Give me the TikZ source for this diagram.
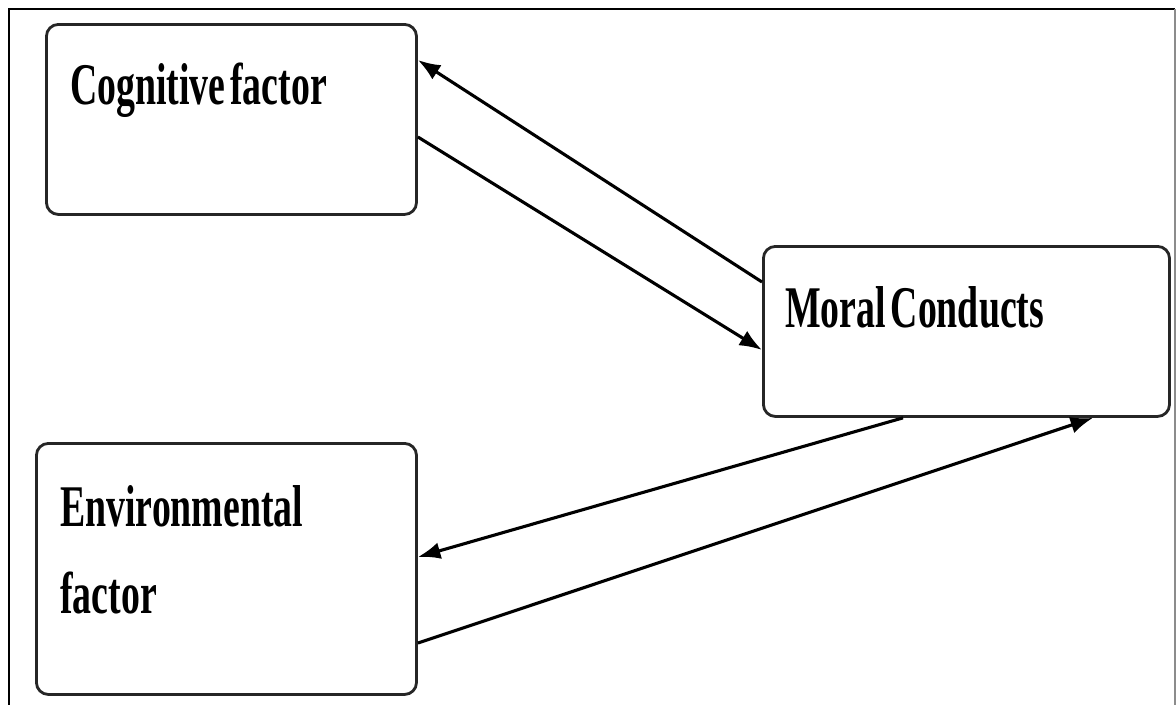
\documentclass[tikz,border=0pt]{standalone}
\usepackage{fontspec}
\newfontfamily\boxfont[FakeStretch=0.64,WordSpace=0.5]{Liberation Serif}
\usetikzlibrary{arrows.meta}

\begin{document}
\begin{tikzpicture}[x=0.025cm, y=-0.025cm,
        factorbox/.style={draw=black!85, line width=2pt, rounded corners=0.3cm,
            anchor=north west, inner sep=0pt},
        factortext/.style={anchor=north west, inner sep=0pt, align=left,
            font=\boxfont\bfseries\fontsize{42}{62}\selectfont},
        link/.style={line width=2.2pt, -{Latex[length=16pt,width=12pt]}}]
        \useasboundingbox (0, 0) rectangle (1176, 704);
        % frame
        \draw[line width=2pt] (9, 720) -- (9, 9) -- (1175, 9);
        \draw[line width=1.6pt, black!45] (1175, 9) -- (1175, 720);
        % boxes
        \node[factorbox, minimum width=9.25cm, minimum height=4.75cm] (cog) at (45, 23) {};
        \node[factorbox, minimum width=10.15cm, minimum height=4.25cm] (moral) at (762, 245) {};
        \node[factorbox, minimum width=9.5cm, minimum height=6.275cm] (env) at (35, 442) {};
        \node[factortext] (cogtext) at (70, 63) {Cognitive factor};
        \node[factortext] (moraltext) at (785, 286) {Moral Conducts};
        \node[factortext] (envtext) at (60, 485) {Environmental\\factor};
        % arrows
        \draw[link] ([shift={(0, 37)}]moral.north west) -- ([shift={(0, 37)}]cog.north east);
        \draw[link] ([shift={(0, 114)}]cog.north east) -- ([shift={(0, 105)}]moral.north west);
        \draw[link] ([shift={(141, 0)}]moral.south west) -- ([shift={(0, 115)}]env.north east);
        \draw[link] ([shift={(0, 201)}]env.north east) -- ([shift={(331, 0)}]moral.south west);
    \end{tikzpicture}
\end{document}
